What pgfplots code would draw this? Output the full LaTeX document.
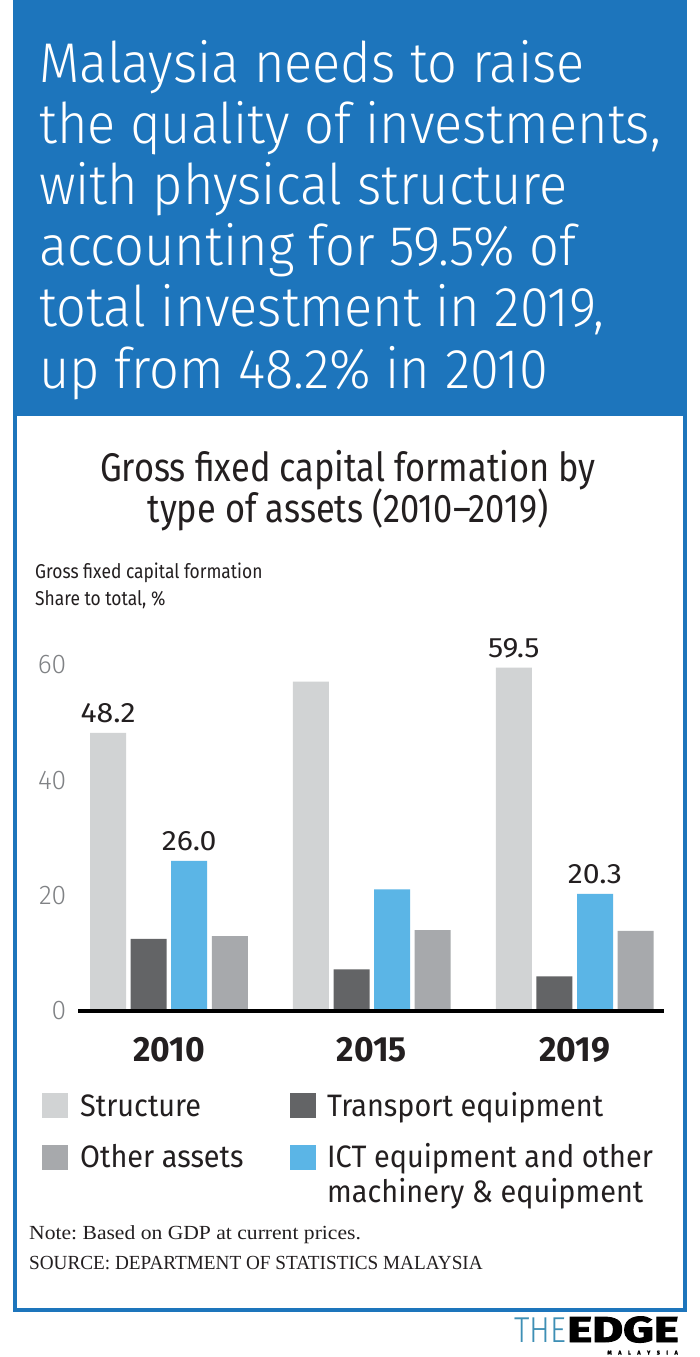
\documentclass[border=0pt]{standalone}
\usepackage{pgfplots}
\pgfplotsset{compat=1.18}
\usepackage{fontspec}
\setmainfont{Fira Sans}[FakeStretch=0.9]
\newfontfamily\headfont{Fira Sans Light}[FakeStretch=0.935]
\newfontfamily\subfont{Fira Sans}[FakeStretch=0.86]
\newfontfamily\legfont{Fira Sans}[FakeStretch=0.93]
\newfontfamily\labfont{Fira Sans}[FakeStretch=0.87]
\newfontfamily\valfont{Fira Sans}[FakeStretch=1.08]
\newfontfamily\tickfont{Fira Sans Light}[FakeStretch=0.98]
\newfontfamily\yearfont{Fira Sans}[FakeStretch=0.96]
\newfontfamily\logothin{Fira Sans Light}
\newfontfamily\logoheavy{Fira Sans}[FakeBold=2.5]
\newfontfamily\notefont{Liberation Serif}
\definecolor{headblue}{HTML}{1D75BC}
\definecolor{cstruct}{HTML}{D1D3D4}
\definecolor{ctrans}{HTML}{636466}
\definecolor{cict}{HTML}{5BB5E6}
\definecolor{cother}{HTML}{A7A9AC}
\definecolor{tickgray}{HTML}{808285}
\definecolor{dark}{HTML}{231F20}
\definecolor{logoblue}{HTML}{3E8FB5}
\frenchspacing
\begin{document}
\begin{tikzpicture}
% page frame
\path (0pt,0pt) rectangle (700pt,-1357pt);
% header and box with blue border
\fill[headblue] (13pt,0pt) rectangle (687pt,-1311.5pt);
\fill[white] (17pt,-415.7pt) rectangle (683pt,-1307.5pt);
% header text
\begin{scope}[every node/.style={anchor=base west, inner sep=0pt, text=white, font=\headfont\fontsize{56}{62}\selectfont}]
\node at (39pt,-82pt) {Malaysia needs to raise};
\node at (39pt,-143pt) {the quality of investments,};
\node at (39pt,-204pt) {with physical structure};
\node at (39pt,-265pt) {accounting for 59.5\% of};
\node at (39pt,-326pt) {total investment in 2019,};
\node at (39pt,-388pt) {up from 48.2\% in 2010};
\end{scope}
% subtitle
\begin{scope}[every node/.style={anchor=base, inner sep=0pt, text=dark, font=\subfont\fontsize{40}{44}\selectfont}]
\node at (348pt,-481pt) {Gross fixed capital formation by};
\node at (348pt,-522pt) {type of assets (2010\textendash2019)};
\end{scope}
\begin{scope}[every node/.style={anchor=base west, inner sep=0pt, text=dark, font=\labfont\fontsize{20}{22}\selectfont}]
\node at (35pt,-578pt) {Gross fixed capital formation};
\node at (35pt,-605pt) {Share to total, \%};
\end{scope}
\begin{axis}[
  at={(78pt,-1011pt)}, anchor=south west,
  width=586pt, height=346.2pt, scale only axis,
  xmin=-0.448, xmax=2.44, ymin=0, ymax=60,
  axis line style={draw=none},
  tick style={draw=none},
  ytick={0,20,40,60},
  xtick={0,1,2}, xticklabels={2010,2015,2019},
  /pgf/number format/assume math mode=true,
  yticklabel style={anchor=east, inner sep=0pt, xshift=-11.5pt, text=tickgray, font=\tickfont\fontsize{27}{30}\selectfont},
  xticklabel style={anchor=base, inner sep=0pt, yshift=-46pt, text=dark, font=\yearfont\bfseries\fontsize{35}{40}\selectfont},
  ybar, bar width=0.1773,
  clip=false,
]
\addplot[fill=cstruct, draw=none, bar shift=-0.3] coordinates {(0,48.2) (1,57.1) (2,59.5)};
\addplot[fill=ctrans, draw=none, bar shift=-0.1] coordinates {(0,12.5) (1,7.2) (2,6.0)};
\addplot[fill=cict, draw=none, bar shift=0.1] coordinates {(0,26.0) (1,21.1) (2,20.3)};
\addplot[fill=cother, draw=none, bar shift=0.3] coordinates {(0,13.0) (1,14.0) (2,13.9)};
\draw[line width=4pt, black] (axis cs:-0.448,0) -- (axis cs:2.44,0);
\begin{scope}[every node/.style={anchor=base, inner sep=0pt, text=dark, font=\valfont\fontsize{28}{32}\selectfont, yshift=10.5pt}]
\node at (axis cs:-0.3,48.2) {48.2};
\node at (axis cs:0.1,26.0) {26.0};
\node at (axis cs:1.7,59.5) {59.5};
\node at (axis cs:2.1,20.3) {20.3};
\end{scope}
\end{axis}
% legend
\fill[cstruct] (42pt,-1093pt) rectangle (68pt,-1118pt);
\fill[ctrans] (290pt,-1093pt) rectangle (316pt,-1118pt);
\fill[cother] (42pt,-1145pt) rectangle (68pt,-1170pt);
\fill[cict] (290pt,-1145pt) rectangle (316pt,-1170pt);
\begin{scope}[every node/.style={anchor=base west, inner sep=0pt, text=dark, font=\legfont\fontsize{31}{34}\selectfont}]
\node at (80pt,-1116pt) {Structure};
\node at (327pt,-1116pt) {Transport equipment};
\node at (80pt,-1167pt) {Other assets};
\node at (327pt,-1167pt) {ICT equipment and other};
\node at (327pt,-1202pt) {machinery \& equipment};
\end{scope}
\begin{scope}[every node/.style={anchor=base west, inner sep=0pt, text=dark, font=\notefont\fontsize{20}{22}\selectfont}]
\node at (29pt,-1239pt) {\scalebox{1.08}[1]{Note: Based on GDP at current prices.}};
\node at (29pt,-1269pt) {\scalebox{0.96}[1]{SOURCE: DEPARTMENT OF STATISTICS MALAYSIA}};
\end{scope}
% logo
\node[anchor=base west, inner sep=0pt, text=logoblue, font=\logothin\fontsize{36}{36}\selectfont] at (514pt,-1342pt) {\scalebox{0.86}[1]{THE}};
\node[anchor=base east, inner sep=0pt, text=black, font=\logoheavy\bfseries\fontsize{36}{36}\selectfont] at (679pt,-1342pt) {\scalebox{1.32}[1]{EDGE}};
\node[anchor=base east, inner sep=0pt, text=black, font=\logoheavy\bfseries\fontsize{5.5}{5.5}\selectfont] at (678pt,-1354.5pt) {M\hspace{6.5pt}A\hspace{6.5pt}L\hspace{6.5pt}A\hspace{6.5pt}Y\hspace{6.5pt}S\hspace{6.5pt}I\hspace{6.5pt}A};
\end{tikzpicture}
\end{document}
